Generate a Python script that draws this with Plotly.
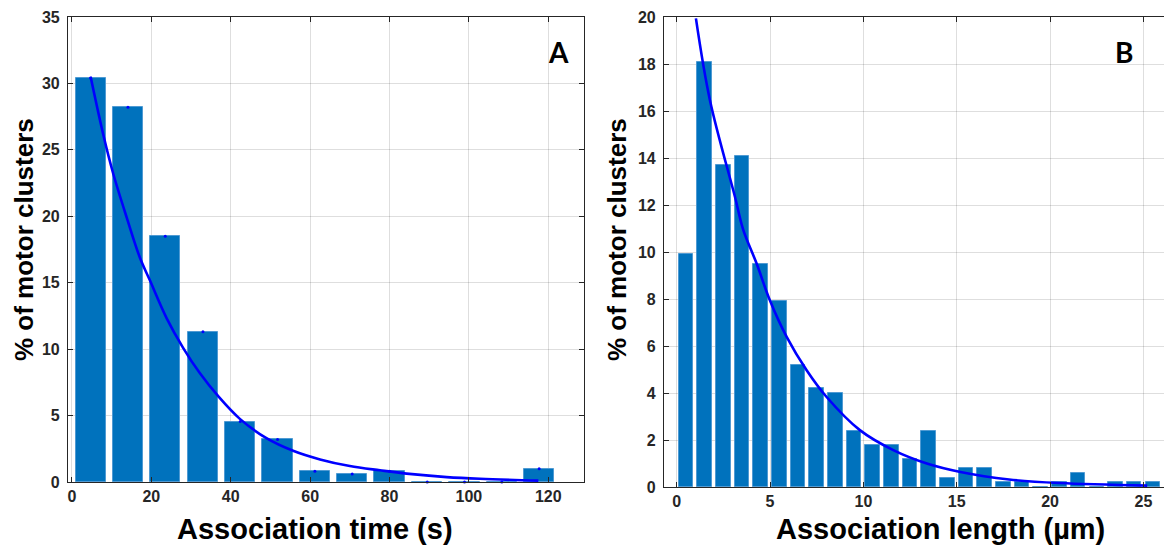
import plotly.graph_objects as go

# ---------------- data ----------------
# Panel A: association time histogram (bin centres, % of motor clusters)
time_centers = [4.7, 14.1, 23.5, 33.0, 42.4, 51.8, 61.2, 70.6, 80.0, 89.5, 98.9, 108.3, 117.7]
time_pct = [30.4, 28.2, 18.5, 11.3, 4.55, 3.2, 0.8, 0.6, 0.8, 0.0, 0.0, 0.0, 1.0]
# exponential fit curve
time_fit_x = [4.7, 8.0, 10.4, 13.8, 17.1, 19.6, 23.9, 28.0, 32.2, 37.0, 42.3, 49.0, 55.7,
              62.5, 70.0, 77.6, 84.3, 94.4, 102.8, 117.5]
time_fit_y = [30.5, 26.0, 23.2, 19.9, 16.9, 15.2, 12.3, 10.1, 8.2, 6.4, 4.75, 3.3, 2.35,
              1.7, 1.2, 0.88, 0.63, 0.37, 0.24, 0.1]

# Panel B: association length histogram
length_centers = [0.5, 1.5, 2.5, 3.5, 4.5, 5.5, 6.5, 7.5, 8.5, 9.5, 10.5, 11.5, 12.5,
                  13.5, 14.5, 15.5, 16.5, 17.5, 18.5, 19.5, 20.5, 21.5, 22.5, 23.5, 24.5, 25.5]
length_pct = [9.9, 18.1, 13.7, 14.1, 9.5, 7.9, 5.2, 4.2, 4.0, 2.4, 1.8, 1.8, 1.2,
              2.4, 0.4, 0.8, 0.8, 0.2, 0.2, 0.0, 0.2, 0.6, 0.0, 0.2, 0.2, 0.2]
length_fit_x = [1.03, 1.78, 3.12, 3.57, 4.28, 4.99, 5.89, 6.96, 8.03, 9.81, 11.6, 13.4,
                15.2, 17.8, 20.5, 25.2]
length_fit_y = [19.94, 16.46, 12.35, 10.93, 9.51, 7.95, 6.39, 4.97, 3.83, 2.42, 1.57, 1.0,
                0.64, 0.32, 0.17, 0.06]

time_ticks = [0, 20, 40, 60, 80, 100, 120]
time_yticks = [0, 5, 10, 15, 20, 25, 30, 35]
length_ticks = [0, 5, 10, 15, 20, 25]
length_yticks = [0, 2, 4, 6, 8, 10, 12, 14, 16, 18, 20]

# ---------------- styling ----------------
W, H = 1164, 546
BAR = "#0072BD"
BAR_EDGE = "#4f9ad3"
FIT = "#0000FF"
AXC = "#262626"
GRID = "rgba(0,0,0,0.13)"


def px_x(p):
    return p / W


def px_y(p):
    return 1 - p / H


fig = go.Figure()

fig.add_trace(go.Bar(x=time_centers, y=time_pct, width=7.6, marker_color=BAR,
                     marker_line_color=BAR_EDGE, marker_line_width=1,
                     xaxis="x", yaxis="y", showlegend=False))
fig.add_trace(go.Scatter(x=time_fit_x, y=time_fit_y, mode="lines", line_shape="spline",
                         line=dict(color=FIT, width=2.6), xaxis="x", yaxis="y",
                         showlegend=False))
fig.add_trace(go.Scatter(x=time_centers, y=time_pct, mode="markers",
                         marker=dict(color=FIT, size=3), xaxis="x", yaxis="y",
                         showlegend=False, cliponaxis=False))

fig.add_trace(go.Bar(x=length_centers, y=length_pct, width=0.78, marker_color=BAR,
                     marker_line_color=BAR_EDGE, marker_line_width=1,
                     xaxis="x2", yaxis="y2", showlegend=False))
fig.add_trace(go.Scatter(x=length_fit_x, y=length_fit_y, mode="lines", line_shape="spline",
                         line=dict(color=FIT, width=2.6), xaxis="x2", yaxis="y2",
                         showlegend=False))

tickfont = dict(family="Liberation Sans, Arial", size=16, color=AXC, weight="bold")
common_axis = dict(showline=True, linecolor=AXC, linewidth=1.2, ticks="inside",
                   ticklen=5, tickcolor=AXC, tickwidth=1.2, showgrid=True,
                   gridcolor=GRID, gridwidth=1, zeroline=False, tickfont=tickfont,
                   automargin=False)

fig.update_layout(
    width=W, height=H, margin=dict(l=0, r=0, t=0, b=0),
    paper_bgcolor="white", plot_bgcolor="white", bargap=0,
    xaxis=dict(domain=[px_x(68), px_x(584)], range=[-1, 129], tickvals=time_ticks,
               anchor="y", mirror="ticks", ticklabelstandoff=0, **common_axis),
    yaxis=dict(domain=[px_y(482), px_y(17)], range=[0, 35], tickvals=time_yticks,
               anchor="x", mirror="ticks", ticklabelstandoff=4, **common_axis),
    xaxis2=dict(domain=[px_x(664), 1.0], range=[-0.68, 26.1], tickvals=length_ticks,
                anchor="y2", mirror="ticks", ticklabelstandoff=0, **common_axis),
    yaxis2=dict(domain=[px_y(487), px_y(17)], range=[0, 20], tickvals=length_yticks,
                anchor="x2", mirror=False, ticklabelstandoff=4, **common_axis),
)

xtitle_font = dict(family="Liberation Sans, Arial", size=29, color="black", weight="bold")
ytitle_font = dict(family="Liberation Sans, Arial", size=26, color="black", weight="bold")
label_font = dict(family="Lato", size=28, color="black", weight="bold")
annotations = [
    dict(text="Association time (s)", x=px_x(315), y=px_y(529), xref="paper", yref="paper",
         xanchor="center", yanchor="middle", showarrow=False, font=xtitle_font),
    dict(text="Association length (µm)", x=px_x(940), y=px_y(529), xref="paper", yref="paper",
         xanchor="center", yanchor="middle", showarrow=False, font=xtitle_font),
    dict(text="% of motor clusters", x=px_x(24), y=px_y(240), xref="paper", yref="paper",
         xanchor="center", yanchor="middle", textangle=-90, showarrow=False, font=ytitle_font),
    dict(text="% of motor clusters", x=px_x(617), y=px_y(240), xref="paper", yref="paper",
         xanchor="center", yanchor="middle", textangle=-90, showarrow=False, font=ytitle_font),
    dict(text="A", x=px_x(558), y=px_y(52), xref="paper", yref="paper",
         xanchor="center", yanchor="middle", showarrow=False, font=label_font),
    dict(text="B", x=px_x(1124), y=px_y(52), xref="paper", yref="paper",
         xanchor="center", yanchor="middle", showarrow=False, font=label_font),
]
fig.update_layout(annotations=annotations)

fig.write_html("out.html")
